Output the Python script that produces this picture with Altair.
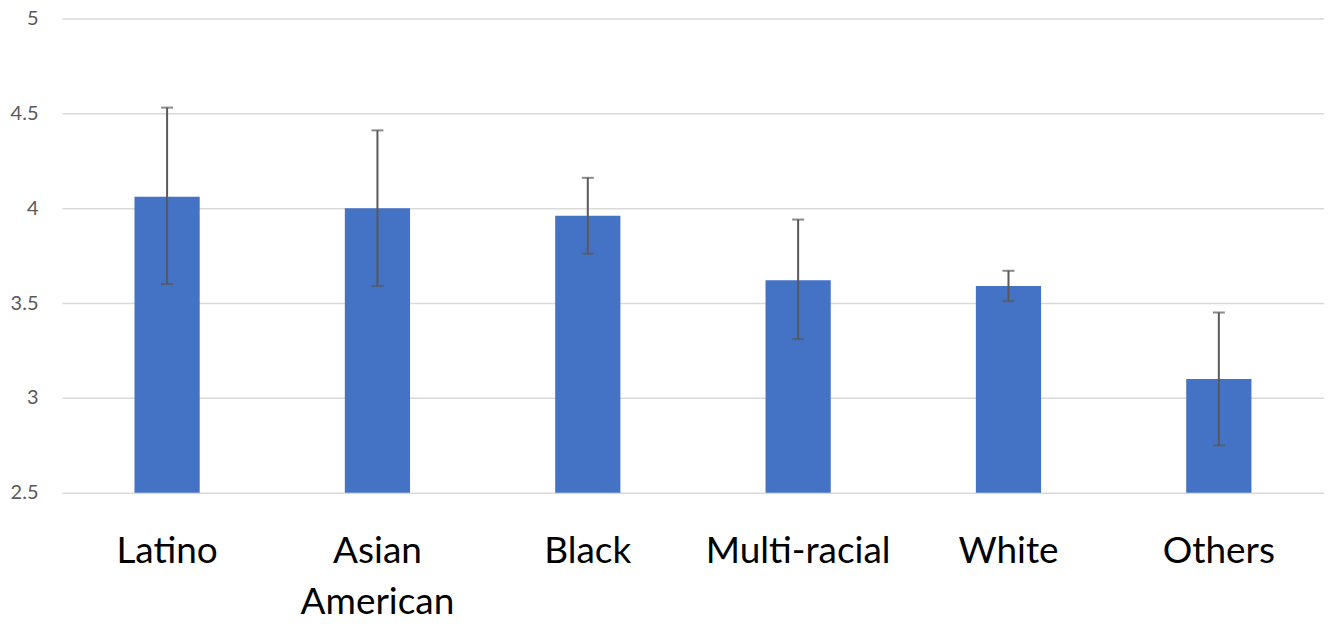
import altair as alt
import pandas as pd

groups = ["Latino", "Asian American", "Black", "Multi-racial", "White", "Others"]
means = [4.06, 4.00, 3.96, 3.62, 3.59, 3.10]
upper = [4.53, 4.41, 4.16, 3.94, 3.67, 3.45]
lower = [3.60, 3.59, 3.76, 3.31, 3.51, 2.75]

df = pd.DataFrame({"group": groups, "mean": means, "hi": upper, "lo": lower})

FONT = "Lato"

x = alt.X(
    "group:N",
    sort=groups,
    title=None,
    scale=alt.Scale(paddingInner=0.69, paddingOuter=0.345),
    axis=alt.Axis(
        labelAngle=0,
        labelFontSize=37,
        labelFont=FONT,
        labelColor="#000000",
        labelPadding=41,
        labelLineHeight=51,
        labelLimit=0,
        labelExpr="datum.label == 'Asian American' ? ['Asian', 'American'] : datum.label",
        domain=False,
        ticks=False,
        grid=False,
    ),
)

y_scale = alt.Scale(domain=[2.5, 5], zero=False, nice=False)

bars = alt.Chart(df).mark_bar(color="#4472C4").encode(
    x=x,
    y=alt.Y(
        "mean:Q",
        scale=y_scale,
        title=None,
        axis=alt.Axis(
            values=[2.5, 3, 3.5, 4, 4.5, 5],
            labelExpr="datum.value",
            labelFontSize=20,
            labelFont=FONT,
            labelColor="#595959",
            labelPadding=24,
            domain=False,
            ticks=False,
            grid=True,
            gridColor="#D9D9D9",
            gridWidth=1.5,
        ),
    ),
    y2=alt.datum(2.5),
)

rules = alt.Chart(df).mark_rule(color="#595959", strokeWidth=2).encode(
    x=alt.X("group:N", sort=groups),
    y=alt.Y("hi:Q", scale=y_scale),
    y2="lo:Q",
)

caps_hi = alt.Chart(df).mark_tick(color="#595959", size=12, thickness=2).encode(
    x=alt.X("group:N", sort=groups),
    y=alt.Y("hi:Q", scale=y_scale),
)
caps_lo = alt.Chart(df).mark_tick(color="#595959", size=12, thickness=2).encode(
    x=alt.X("group:N", sort=groups),
    y=alt.Y("lo:Q", scale=y_scale),
)

chart = (
    alt.layer(bars, rules, caps_hi, caps_lo)
    .properties(
        width=1264,
        height=475,
        autosize=alt.AutoSizeParams(type="none"),
        padding={"left": 54, "top": 10, "right": 0, "bottom": 129},
    )
    .configure_view(stroke=None)
)

chart.save("out.html", embed_options={"renderer": "svg", "actions": False})
